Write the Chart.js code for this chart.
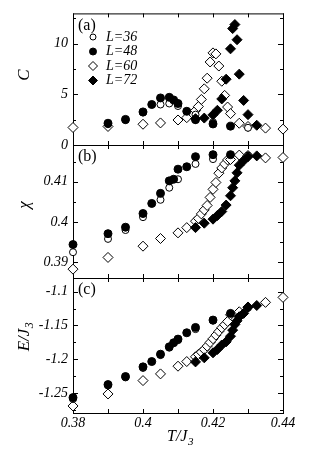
<!DOCTYPE html>
<html>
<head>
<meta charset="utf-8">
<script src="https://cdn.jsdelivr.net/npm/chart.js@4.4.0/dist/chart.umd.min.js"></script>
<style>
  html, body { margin: 0; padding: 0; background: #fff; }
  #wrap { position: relative; width: 334px; height: 476px; }
  #wrap canvas { position: absolute; left: 0; top: 0; }
</style>
</head>
<body>
<div id="wrap">
  <canvas id="panelA" width="334" height="476"></canvas>
  <canvas id="panelB" width="334" height="476"></canvas>
  <canvas id="panelC" width="334" height="476"></canvas>
</div>
<script>
// ---- data ----
const t36 = [0.38, 0.39, 0.395, 0.40, 0.405, 0.4075, 0.41, 0.415, 0.42, 0.43];
const c36 = [null, 2.05, 2.45, 3.2, 4.0, 4.1, 3.85, 3.0, 2.25, 1.7];
const chi36 = [0.3925, 0.3958, 0.3980, 0.4012, 0.4055, 0.4085, 0.4106, 0.4144, 0.4156, 0.4165];
const e36 = [-1.259, -1.239, -1.227, -1.213, -1.194, -1.183, -1.172, -1.1555, -1.143, -1.124];

const t48 = [0.38, 0.39, 0.395, 0.40, 0.4025, 0.405, 0.4075, 0.40875, 0.41, 0.4125, 0.415, 0.42, 0.425];
const c48 = [null, 2.15, 2.53, 3.27, 4.0, 4.65, 4.71, 4.45, 4.1, 3.33, 2.5, 2.08, 1.86];
const chi48 = [0.3944, 0.3971, 0.3987, 0.4021, 0.4046, 0.4071, 0.4102, 0.4106, 0.4131, 0.4137, 0.4162, 0.4167, 0.4167];
const e48 = [-1.2569, -1.2376, -1.2257, -1.2114, -1.2035, -1.1926, -1.1817, -1.1757, -1.1703, -1.1609, -1.153, -1.1421, -1.1322];

const t60 = [0.38, 0.39, 0.40, 0.405, 0.41, 0.4125, 0.415, 0.41583, 0.41667, 0.4175, 0.41833, 0.41917,
             0.42, 0.42083, 0.42167, 0.4225, 0.42333, 0.42417, 0.425, 0.4275, 0.43, 0.435, 0.44];
const c60 = [1.73, 1.83, 2.05, 2.18, 2.47, 2.7, 3.4, 3.8, 4.5, 5.55, 6.6, 8.2,
             9.1, 9.0, 7.8, 6.3, 4.9, 3.75, 3.1, 2.15, 1.83, 1.67, 1.57];
const chi60 = [0.3883, 0.3912, 0.3940, 0.3959, 0.3973, 0.3986, 0.4002, 0.4009, 0.4020, 0.4030, 0.4041, 0.4061,
               0.4081, 0.4098, 0.4121, 0.4134, 0.4144, 0.4154, 0.4155, 0.4166, 0.4165, 0.4159, 0.4160];
const e60 = [-1.2693, -1.2515, -1.2317, -1.2218, -1.2104, -1.2035, -1.1965, -1.193, -1.1896, -1.1856, -1.1807, -1.1752,
             -1.1698, -1.1644, -1.1589, -1.1535, -1.149, -1.1441, -1.1343, -1.1298, -1.1233, -1.1159, -1.1085];

const t72 = [0.415, 0.4175, 0.42, 0.42125, 0.4225, 0.42375, 0.425, 0.42562, 0.42625, 0.42687, 0.4275, 0.42875, 0.43, 0.4325];
const c72 = [2.6, 2.66, 2.98, 3.43, 4.55, 6.5, 9.5, 11.5, 11.9, 10.4, 7.0, 4.4, 3.0, 1.95];
const chi72 = [0.3986, 0.3997, 0.4007, 0.4016, 0.4026, 0.4042, 0.4065, 0.4085, 0.4102, 0.4122, 0.4141, 0.4152, 0.4162, 0.4164];
const e72 = [-1.204, -1.198, -1.1906, -1.1856, -1.179, -1.1743, -1.166, -1.157, -1.1485, -1.1432, -1.1372, -1.1322, -1.1227, -1.1205];

const seriesLabels = ['L=36', 'L=48', 'L=60', 'L=72'];

// ---- look ----
const SERIF = "'Liberation Serif', 'Times New Roman', serif";
const series = [
  { t: t36, C: c36, chi: chi36, E: e36, shape: 'circle', r: 3.5, fill: '#fff', order: 2 },
  { t: t48, C: c48, chi: chi48, E: e48, shape: 'circle', r: 4, fill: '#000', order: 0 },
  { t: t60, C: c60, chi: chi60, E: e60, shape: 'rectRot', r: 5, fill: '#fff', order: 3 },
  { t: t72, C: c72, chi: chi72, E: e72, shape: 'rectRot', r: 5, fill: '#000', order: 1 },
];

function marker(ctx, shape, x, y, r, fill) {
  ctx.beginPath();
  if (shape === 'circle') {
    ctx.arc(x, y, r, 0, Math.PI * 2);
  } else {
    ctx.moveTo(x, y - r); ctx.lineTo(x + r, y); ctx.lineTo(x, y + r); ctx.lineTo(x - r, y); ctx.closePath();
  }
  ctx.fillStyle = fill; ctx.fill();
  ctx.lineWidth = 1; ctx.strokeStyle = '#000'; ctx.stroke();
}

// text with a subscript, centred on (0,0) of the current transform
function subText(ctx, main, sub, size) {
  ctx.font = 'italic ' + size + 'px ' + SERIF;
  const w1 = ctx.measureText(main).width;
  ctx.font = 'italic ' + Math.round(size * 0.7) + 'px ' + SERIF;
  const w2 = ctx.measureText(sub).width;
  const x0 = -(w1 + w2) / 2;
  ctx.textBaseline = 'middle'; ctx.textAlign = 'left';
  ctx.font = 'italic ' + size + 'px ' + SERIF;
  ctx.fillText(main, x0, 0);
  ctx.font = 'italic ' + Math.round(size * 0.7) + 'px ' + SERIF;
  ctx.fillText(sub, x0 + w1 + 0.5, size * 0.3);
}

// frame with inward ticks on all four sides
const frame = {
  id: 'frame',
  beforeDatasetsDraw(chart) {
    const { ctx, chartArea: a, scales: { x, y } } = chart;
    ctx.save();
    ctx.strokeStyle = '#000'; ctx.lineWidth = 1;
    ctx.strokeRect(a.left + 0.5, a.top + 0.5, a.right - a.left, a.bottom - a.top);
    ctx.beginPath();
    x.ticks.forEach(tk => {
      const px = Math.round(x.getPixelForValue(tk.value)) + 0.5;
      ctx.moveTo(px, a.top); ctx.lineTo(px, a.top + 4);
      ctx.moveTo(px, a.bottom); ctx.lineTo(px, a.bottom - 4);
    });
    const half = y.options.ticks.stepSize / 2;
    for (let k = Math.ceil(y.min / half - 1e-6); k * half <= y.max + 1e-9; k++) {
      const py = Math.round(y.getPixelForValue(k * half)) + 0.5;
      const len = Math.abs(k) % 2 === 0 ? 5 : 3;
      ctx.moveTo(a.left, py); ctx.lineTo(a.left + len, py);
      ctx.moveTo(a.right, py); ctx.lineTo(a.right - len, py);
    }
    ctx.stroke();
    ctx.restore();
  },
  afterDraw(chart, args, o) {
    const { ctx, chartArea: a } = chart;
    ctx.save();
    ctx.fillStyle = '#000';
    ctx.font = '16px ' + SERIF;
    ctx.textBaseline = 'middle'; ctx.textAlign = 'left';
    ctx.fillText(o.tag, a.left + 5, a.top + 12);

    ctx.translate(25, o.titleY);
    ctx.rotate(-Math.PI / 2);
    subText(ctx, o.title, o.titleSub, 17);
    ctx.restore();

    if (o.legend) {
      ctx.save();
      chart.data.datasets.forEach((ds, i) => {
        const yy = 37 + i * 14.5;
        marker(ctx, series[i].shape, 93, yy, series[i].r - 0.5, series[i].fill);
        ctx.fillStyle = '#000';
        ctx.font = 'italic 14px ' + SERIF;
        ctx.textBaseline = 'middle'; ctx.textAlign = 'left';
        ctx.fillText(ds.label, 106, yy);
      });
      ctx.restore();
    }
    if (o.xTitle) {
      ctx.save();
      ctx.fillStyle = '#000';
      ctx.translate((a.left + a.right) / 2 + 2, 437);
      subText(ctx, 'T/J', '3', 16);
      ctx.restore();
    }
  }
};

function makePanel(id, key, top, bottom, yScale, deco, showX) {
  const xBox = showX ? 63 : 0;
  return new Chart(document.getElementById(id), {
    type: 'scatter',
    data: {
      datasets: series.map((s, i) => ({
        label: seriesLabels[i],
        data: s.t.map((t, j) => ({ x: t, y: s[key][j] })),
        pointStyle: s.shape,
        pointRadius: s.r,
        pointHoverRadius: s.r,
        pointBackgroundColor: s.fill,
        pointBorderColor: '#000',
        pointBorderWidth: 1,
        order: s.order,
        clip: false,
      })),
    },
    options: {
      responsive: false,
      animation: false,
      events: [],
      layout: { padding: { left: 0, right: 51, top: top, bottom: 476 - bottom - xBox } },
      plugins: { legend: { display: false }, tooltip: { enabled: false }, frame: deco },
      scales: {
        x: {
          type: 'linear', min: 0.38, max: 0.44,
          grid: { display: false, drawTicks: false }, border: { display: false },
          afterFit: s => { s.height = xBox; },
          ticks: {
            display: showX, stepSize: 0.01, autoSkip: false, includeBounds: false,
            maxRotation: 0, padding: 2, color: '#000',
            font: { family: SERIF, style: 'italic', size: 14 },
            callback: v => { const k = Math.round(v * 100); return k % 2 === 0 ? String(k / 100) : ''; },
          },
        },
        y: {
          type: 'linear', min: yScale.min, max: yScale.max,
          grid: { display: false, drawTicks: false }, border: { display: false },
          afterFit: s => { s.width = 73; },
          ticks: {
            stepSize: yScale.step, includeBounds: false, padding: 5, color: '#000',
            font: { family: SERIF, style: 'italic', size: 14 },
            callback: v => String(parseFloat(v.toFixed(3))),
          },
        },
      },
    },
    plugins: [frame],
  });
}

makePanel('panelA', 'C', 10, 145, { min: 0, max: 13, step: 5 },
  { tag: '(a)', title: 'C', titleSub: '', titleY: 75, legend: true }, false);
makePanel('panelB', 'chi', 145, 278, { min: 0.3861, max: 0.4191, step: 0.01 },
  { tag: '(b)', title: 'χ', titleSub: '', titleY: 205, legend: false }, false);
makePanel('panelC', 'E', 278, 413, { min: -1.2797, max: -1.0798, step: 0.05 },
  { tag: '(c)', title: 'E/J', titleSub: '3', titleY: 337, legend: false, xTitle: true }, true);
</script>
</body>
</html>
